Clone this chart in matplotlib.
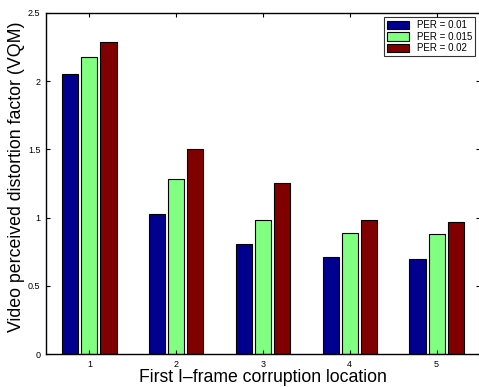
import matplotlib
matplotlib.use("Agg")
import matplotlib.pyplot as plt
import numpy as np

plt.rcParams['font.family'] = ['Liberation Sans', 'DejaVu Sans']

locations = [1, 2, 3, 4, 5]
series_labels = ['PER = 0.01', 'PER = 0.015', 'PER = 0.02']
per_001 = [2.05, 1.03, 0.81, 0.71, 0.70]
per_0015 = [2.18, 1.28, 0.98, 0.89, 0.88]
per_002 = [2.29, 1.50, 1.25, 0.98, 0.97]
yticks = [0, 0.5, 1, 1.5, 2, 2.5]
ytick_labels = ['0', '0.5', '1', '1.5', '2', '2.5']

colors = ['#00008F', '#80FF80', '#800000']

fig = plt.figure(figsize=(4.79, 3.87), dpi=100)
ax = fig.add_axes([46/479, 33/387, (480-46)/479, (354-13)/387])

x = np.array(locations, dtype=float)
width = 0.185
offset = 0.22
for i, (vals, lab, c) in enumerate(zip([per_001, per_0015, per_002], series_labels, colors)):
    ax.bar(x + (i - 1) * offset, vals, width=width, color=c, edgecolor='black',
           linewidth=0.8, label=lab)

ax.set_xlim(0.5, 5.5)
ax.set_ylim(0, 2.5)
ax.set_xticks(locations)
ax.set_xticklabels([str(v) for v in locations], fontsize=6.5)
ax.set_yticks(yticks)
ax.set_yticklabels(ytick_labels, fontsize=6.5)
ax.tick_params(direction='in', top=True, right=True, length=3, width=0.8, pad=4)
for s in ax.spines.values():
    s.set_linewidth(1.0)

ax.set_xlabel('First I\u2013frame corruption location', fontsize=12.7, labelpad=0)
ax.set_ylabel('Video perceived distortion factor (VQM)', fontsize=12.8, labelpad=1)
ax.yaxis.set_label_coords(-20.5 / 434, (354 - 176.5) / 341)

leg = ax.legend(loc='upper right', bbox_to_anchor=((475 - 46) / 434, (354 - 17.5) / 341),
                bbox_transform=ax.transAxes, fontsize=7, frameon=True, fancybox=False,
                edgecolor='black', borderpad=0.3, handlelength=2.3, handleheight=0.9,
                handletextpad=0.8, labelspacing=0.15, borderaxespad=0)
leg.get_frame().set_linewidth(0.8)

fig.savefig('out.png', dpi=100)
